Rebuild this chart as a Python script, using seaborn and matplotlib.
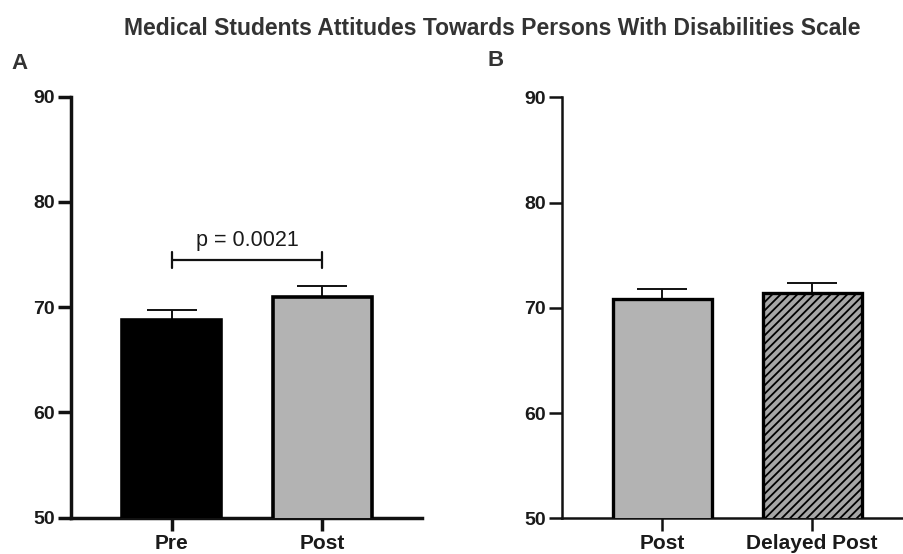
import matplotlib
matplotlib.use("Agg")
import matplotlib.pyplot as plt
import seaborn as sns

# panel A: pre vs post
a_labels = ['Pre', 'Post']
a_means = [68.8, 71.0]
a_err = [0.9, 1.0]
a_colors = ['#000000', '#b3b3b3']

# panel B: post vs delayed post
b_labels = ['Post', 'Delayed Post']
b_means = [70.8, 71.4]
b_err = [0.95, 0.95]
b_colors = ['#b3b3b3', '#a6a6a6']
b_hatch = ['', '////']

p_text = 'p = 0.0021'
title = 'Medical Students Attitudes Towards Persons With Disabilities Scale'

sns.set_style("ticks")
plt.rcParams['font.family'] = ['Liberation Sans', 'DejaVu Sans']
plt.rcParams['hatch.linewidth'] = 1.3

fig = plt.figure(figsize=(9.04, 5.54), dpi=100)
axA = fig.add_axes([0.0785, 0.0655, 0.388, 0.760])
axB = fig.add_axes([0.6213, 0.0644, 0.3787, 0.760])


def draw_panel(ax, labels, means, err, colors, spine_w, edge_w, xlim, hatches=None):
    sns.barplot(x=labels, y=means, hue=labels, palette=colors, legend=False,
                width=0.66, errorbar=None, edgecolor='black', linewidth=edge_w,
                saturation=1, ax=ax, zorder=3)
    for i, patch in enumerate(ax.patches):
        if hatches and hatches[i]:
            patch.set_hatch(hatches[i])
    ax.errorbar(range(len(means)), means, yerr=[[0] * len(err), err], fmt='none',
                ecolor='#111111', elinewidth=1.4, capsize=18, capthick=1.4, zorder=2)
    ax.set_ylim(50, 90)
    ax.set_xlim(*xlim)
    ax.set_yticks([50, 60, 70, 80, 90])
    sns.despine(ax=ax)
    for s in ['left', 'bottom']:
        ax.spines[s].set_linewidth(spine_w)
        ax.spines[s].set_color('#111111')
    ax.tick_params(axis='both', length=9.5, width=spine_w, color='#111111',
                   labelcolor='#1a1a1a', pad=2)
    ax.tick_params(axis='y', labelsize=14)
    ax.tick_params(axis='x', labelsize=15)
    for lab in ax.get_xticklabels() + ax.get_yticklabels():
        lab.set_fontweight('bold')


draw_panel(axA, a_labels, a_means, a_err, a_colors, 2.5, 2.6, (-0.668, 1.66))
draw_panel(axB, b_labels, b_means, b_err, b_colors, 1.8, 2.4, (-0.669, 1.613), b_hatch)

# significance bracket on panel A
axA.plot([0, 1], [74.5, 74.5], color='#111111', lw=1.6)
for xx in [0, 1]:
    axA.plot([xx, xx], [73.75, 75.25], color='#111111', lw=1.6)
axA.text(0.5, 76.3, p_text, ha='center', va='center', fontsize=15.5, color='#1a1a1a')

fig.text(0.544, 0.949, title, ha='center', va='center', fontsize=16.5,
         fontweight='bold', color='#333333')
fig.text(19.5 / 904, 1 - 63 / 554, 'A', ha='center', va='center', fontsize=16,
         fontweight='bold', color='#333333')
fig.text(495.5 / 904, 1 - 60.5 / 554, 'B', ha='center', va='center', fontsize=16,
         fontweight='bold', color='#333333')

fig.savefig('out.png', dpi=100)
